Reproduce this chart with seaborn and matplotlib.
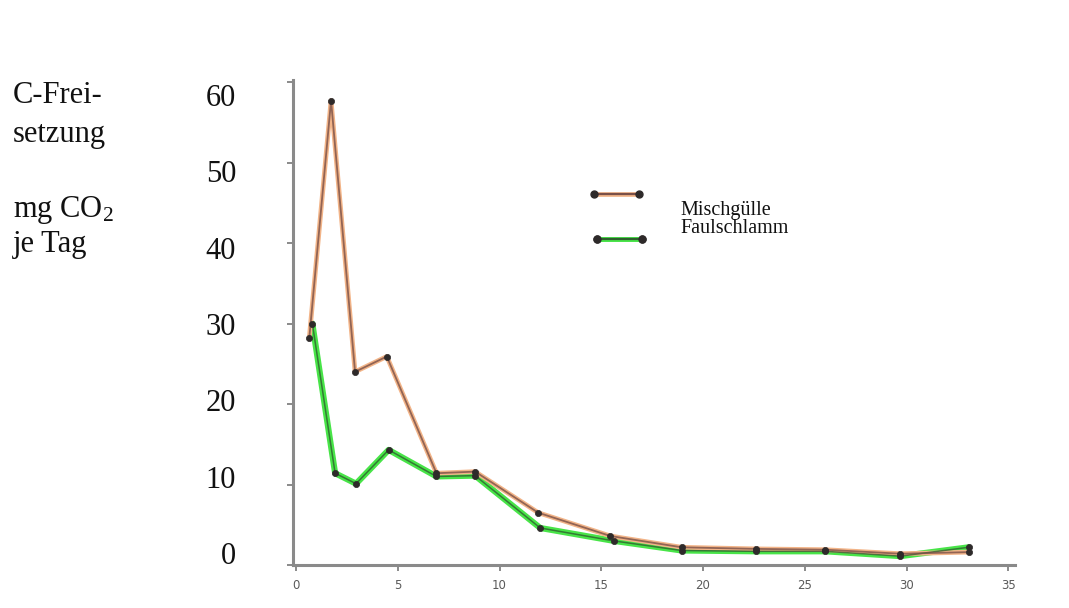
import matplotlib
matplotlib.use("Agg")
import matplotlib.pyplot as plt
import pandas as pd
import seaborn as sns
from matplotlib.lines import Line2D

# Daily CO2 release (mg CO2 per day) over the incubation period (days)
days_misch = [0.65, 1.72, 2.9, 4.46, 6.9, 8.8, 11.9, 15.45, 18.95, 22.6, 26.0, 29.7, 33.05]
co2_misch = [28.2, 57.7, 24.0, 25.9, 11.4, 11.6, 6.5, 3.6, 2.2, 2.0, 1.9, 1.4, 1.6]

days_faul = [0.8, 1.92, 2.95, 4.55, 6.9, 8.8, 12.0, 15.6, 18.95, 22.6, 26.0, 29.7, 33.05]
co2_faul = [30.0, 11.4, 10.1, 14.3, 11.0, 11.1, 4.6, 3.0, 1.8, 1.7, 1.7, 1.1, 2.2]

series_names = ["Mischgülle", "Faulschlamm"]

x_ticks = [0, 5, 10, 15, 20, 25, 30, 35]
x_tick_labels = ["0", "5", "10", "15", "20", "25", "30", "35"]
y_ticks = [0, 10, 20, 30, 40, 50, 60]
y_tick_labels = ["0", "10", "20", "30", "40", "50", "60"]

sns.set_theme(style="white")
plt.rcParams["font.family"] = ["Liberation Serif", "DejaVu Serif"]
plt.rcParams["mathtext.fontset"] = "custom"
plt.rcParams["mathtext.rm"] = "Liberation Serif"
plt.rcParams["mathtext.it"] = "Liberation Serif:italic"
plt.rcParams["mathtext.bf"] = "Liberation Serif:bold"

W, H = 1069, 608
fig = plt.figure(figsize=(W / 100, H / 100), dpi=100)
fig.patch.set_facecolor("white")

ax = fig.add_axes([293 / W, 1 - 565 / H, (1015 - 293) / W, (565 - 79.6) / H])
ax.set_facecolor("white")

df_misch = pd.DataFrame({"Tag": days_misch, "CO2": co2_misch})
df_faul = pd.DataFrame({"Tag": days_faul, "CO2": co2_faul})

# colour styles: soft wide halo underneath, thin dark core on top
misch_halo, misch_core = "#f2b488", "#7a5048"
faul_halo, faul_core = "#48e448", "#2f5f2f"
dot_color = "#2e2a2a"

for df, halo, core, hw, cw in [
    (df_faul, faul_halo, faul_core, 4.4, 1.1),
    (df_misch, misch_halo, misch_core, 3.4, 1.3),
]:
    sns.lineplot(data=df, x="Tag", y="CO2", sort=False, estimator=None,
                 color=halo, lw=hw, ax=ax, zorder=2)
    sns.lineplot(data=df, x="Tag", y="CO2", sort=False, estimator=None,
                 color=core, lw=cw, alpha=0.8, ax=ax, zorder=3)
    sns.scatterplot(data=df, x="Tag", y="CO2", color=dot_color, s=20,
                    edgecolor=dot_color, linewidth=0.5, ax=ax, zorder=4)

ax.set_xlim(-0.15, 35.33)
ax.set_ylim(0, 60.3)
ax.set_xlabel("")
ax.set_ylabel("")

axis_grey = "#8a8a8a"
for side in ["top", "right"]:
    ax.spines[side].set_visible(False)
for side in ["left", "bottom"]:
    ax.spines[side].set_color(axis_grey)
    ax.spines[side].set_linewidth(2.2)

ax.set_xticks(x_ticks, x_tick_labels)
for lbl in ax.get_xticklabels():
    lbl.set_fontfamily("DejaVu Sans")
    lbl.set_fontsize(8.5)
    lbl.set_color("#5a5a5a")
ax.tick_params(axis="x", bottom=True, direction="out", length=4, width=1.4,
               color=axis_grey, pad=6)
ax.set_yticks(y_ticks)
ax.tick_params(axis="y", left=True, direction="out", length=4, width=1.4,
               color=axis_grey, labelleft=False)

# value scale printed to the left of the axis
lab = fig.add_axes([236 / W, 1 - 553 / H, 0.0005, (553 - 95) / H])
lab.set_ylim(0, 60)
lab.set_yticks(y_ticks, y_tick_labels)
lab.set_xticks([])
lab.tick_params(axis="y", length=0, pad=0, labelsize=22, labelcolor="#111111")
for s in lab.spines.values():
    s.set_visible(False)
lab.patch.set_alpha(0)

# axis title lines
title_lines = [("C-Frei-", 103), ("setzung", 142), ("mg CO$_2$", 217), ("je Tag", 252)]
for txt, base in title_lines:
    fig.text(13 / W, 1 - base / H, txt, fontsize=22, va="baseline", ha="left",
             color="#111111")

# legend keys
key_specs = [
    (misch_halo, misch_core, 195, 589),
    (faul_halo, faul_core, 241, 592),
]
for halo, core, yc, xl in key_specs:
    h = (Line2D([], [], color=halo, lw=3.4),
         Line2D([], [], color=core, lw=1.6, marker="o", ms=5,
                mfc=dot_color, mec=dot_color))
    leg = ax.legend([h], [""], numpoints=2, handlelength=3.6, fontsize=11,
                    frameon=False, loc="center left", borderpad=0,
                    borderaxespad=0, handletextpad=0,
                    bbox_to_anchor=(xl / W, 1 - yc / H),
                    bbox_transform=fig.transFigure)
    ax.add_artist(leg)

fig.text(680 / W, 1 - 215 / H, series_names[0], fontsize=14.5, va="baseline",
         ha="left", color="#111111")
fig.text(680 / W, 1 - 233 / H, series_names[1], fontsize=14.5, va="baseline",
         ha="left", color="#111111")

fig.savefig("out.png", dpi=100, facecolor="white")
